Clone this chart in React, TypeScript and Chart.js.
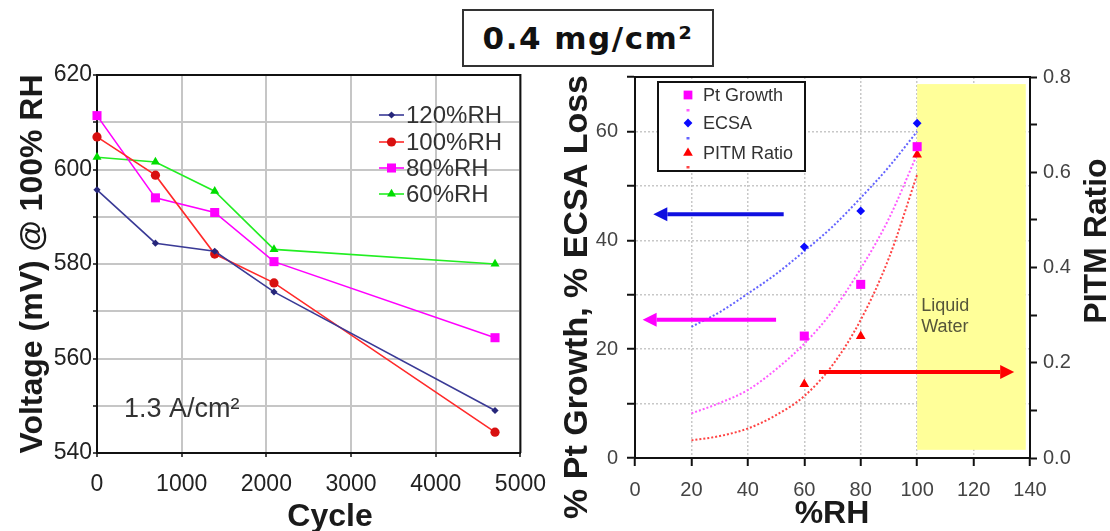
import React, { useEffect, useRef } from 'react';
import { Chart, registerables } from 'chart.js';
Chart.register(...registerables);

// ---------- Left panel data ----------
const cycles = [0, 690, 1390, 2090, 4700];
const rh120 = [595.7, 584.4, 582.7, 574.1, 549.0];
const rh100 = [606.9, 598.8, 582.1, 576.0, 544.4];
const rh80 = [611.4, 594.0, 590.9, 580.5, 564.4];
const rh60 = [602.6, 601.6, 595.4, 583.1, 580.0];
const leftLabels = ['120%RH', '100%RH', '80%RH', '60%RH'];
const voltageTicks = [540, 560, 580, 600, 620];
const cycleTicks = [0, 1000, 2000, 3000, 4000, 5000];

// ---------- Right panel data ----------
const rhPoints = [60, 80, 100];
const ptGrowth = [22.4, 31.9, 57.2];
const ecsaLoss = [38.8, 45.4, 61.5];
const pitmRatio = [0.155, 0.256, 0.637];
const trendRH = [20, 30, 40, 50, 60, 70, 80, 90, 100];
const ptTrend = [8.2, 10.1, 12.5, 16.3, 21.0, 27.0, 34.8, 44.0, 55.8];
const ecsaTrend = [24.1, 26.8, 30.2, 33.8, 38.0, 42.5, 47.8, 53.5, 60.0];
const pitmTrend = [0.037, 0.046, 0.062, 0.09, 0.13, 0.195, 0.29, 0.42, 0.595];
const rightLabels = ['Pt Growth', 'ECSA', 'PITM Ratio'];

// annotations (data units)
const liquidWater = { x0: 100, x1: 138.5, y0: 1.5, y1: 68.7 };
const arrows = [
  { y: 44.8, from: 52.7, to: 6.5, color: '#1010e0' },
  { y: 25.4, from: 50.0, to: 2.7, color: '#ff00ff' },
  { y: 15.8, from: 65.2, to: 134.4, color: '#ff0000' },
];

const FONT = '"Liberation Sans", Arial, Helvetica, sans-serif';
Chart.defaults.font.family = FONT;

function drawMarker(ctx: CanvasRenderingContext2D, style: string, x: number, y: number, r: number, color: string) {
  ctx.fillStyle = color;
  ctx.beginPath();
  if (style === 'circle') ctx.arc(x, y, r, 0, Math.PI * 2);
  else if (style === 'rect') {
    const s = r * Math.SQRT1_2;
    ctx.rect(x - s, y - s, 2 * s, 2 * s);
  } else if (style === 'rectRot') {
    ctx.moveTo(x, y - r); ctx.lineTo(x + r, y); ctx.lineTo(x, y + r); ctx.lineTo(x - r, y); ctx.closePath();
  } else if (style === 'triangle') {
    const c = Math.cos(Math.PI / 6);
    ctx.moveTo(x, y - r); ctx.lineTo(x + r * c, y + r * 0.5); ctx.lineTo(x - r * c, y + r * 0.5); ctx.closePath();
  }
  ctx.fill();
}

function rotText(ctx: CanvasRenderingContext2D, text: string, x: number, y: number, align: CanvasTextAlign) {
  ctx.save();
  ctx.translate(x, y);
  ctx.rotate(-Math.PI / 2);
  ctx.textAlign = align;
  ctx.textBaseline = 'middle';
  ctx.fillText(text, 0, 0);
  ctx.restore();
}

const leftStyles = [
  { line: '#3a3a96', point: '#26267a', style: 'rectRot', r: 3.6 },
  { line: '#ff2a2a', point: '#d81010', style: 'circle', r: 4.6 },
  { line: '#ff00ff', point: '#ff00ff', style: 'rect', r: 6.4 },
  { line: '#22ee22', point: '#00dd00', style: 'triangle', r: 5.2 },
];

function leftConfig(): any {
  const series = [rh120, rh100, rh80, rh60];
  const datasets = series.map((s, i) => ({
    label: leftLabels[i],
    data: cycles.map((c, j) => ({ x: c, y: s[j] })),
    borderColor: leftStyles[i].line,
    backgroundColor: leftStyles[i].point,
    pointBackgroundColor: leftStyles[i].point,
    pointBorderColor: leftStyles[i].point,
    pointStyle: leftStyles[i].style,
    pointRadius: leftStyles[i].r,
    pointBorderWidth: 0,
    borderWidth: 1.6,
    tension: 0,
    clip: false,
  }));
  const decor = {
    id: 'leftDecor',
    beforeDatasetsDraw(chart: any) {
      const { ctx, chartArea: a } = chart;
      ctx.save();
      ctx.strokeStyle = '#111';
      ctx.lineWidth = 2;
      ctx.beginPath();
      ctx.moveTo(a.left, a.top); ctx.lineTo(a.right, a.top); ctx.lineTo(a.right, a.bottom);
      ctx.stroke();
      ctx.restore();
    },
    afterDraw(chart: any) {
      const { ctx } = chart;
      ctx.save();
      ctx.fillStyle = '#1a1a1a';
      ctx.font = `bold 32px ${FONT}`;
      rotText(ctx, 'Voltage (mV) @ 100% RH', 33, 264, 'center');
      ctx.textAlign = 'center';
      ctx.textBaseline = 'middle';
      ctx.fillText('Cycle', 330, 517);
      // annotation
      ctx.fillStyle = '#333';
      ctx.font = `27px ${FONT}`;
      ctx.textAlign = 'left';
      ctx.fillText('1.3 A/cm²', 124, 410);
      // legend
      const rows = [115, 142, 168, 194];
      ctx.font = `24px ${FONT}`;
      leftLabels.forEach((lab, i) => {
        const y = rows[i];
        const st = leftStyles[i];
        ctx.strokeStyle = st.line;
        ctx.lineWidth = 1.6;
        ctx.beginPath(); ctx.moveTo(379, y); ctx.lineTo(404, y); ctx.stroke();
        drawMarker(ctx, st.style, 391.5, y, st.r, st.point);
        ctx.fillStyle = '#333';
        ctx.textAlign = 'left';
        ctx.textBaseline = 'middle';
        ctx.fillText(lab, 406, y + 1);
      });
      ctx.restore();
    },
  };
  return {
    type: 'line',
    data: { datasets },
    plugins: [decor],
    options: {
      responsive: false,
      animation: false,
      devicePixelRatio: 1,
      layout: { padding: { top: 75, right: 33, left: 0, bottom: 0 } },
      plugins: { legend: { display: false }, tooltip: { enabled: false } },
      scales: {
        x: {
          type: 'linear', min: 0, max: 5000,
          afterFit: (s: any) => { s.height = 78; },
          afterBuildTicks: (s: any) => { s.ticks = cycleTicks.map((v) => ({ value: v })); },
          ticks: { font: { size: 23 }, color: '#222', padding: 14, maxRotation: 0, callback: (v: number) => String(v) },
          grid: { color: '#c6c6c6', lineWidth: 2, tickLength: 4, tickColor: '#111', tickWidth: 1.5 },
          border: { color: '#111', width: 2 },
        },
        y: {
          type: 'linear', min: 540, max: 620,
          afterFit: (s: any) => { s.width = 97; },
          afterBuildTicks: (s: any) => {
            const t = [];
            for (let v = 540; v <= 620; v += 10) t.push({ value: v });
            s.ticks = t;
          },
          ticks: {
            font: { size: 23 }, color: '#222', padding: 1,
            callback: (v: number) => (voltageTicks.includes(v) ? String(v) : ''),
          },
          grid: { color: '#c6c6c6', lineWidth: 2, tickLength: 4, tickColor: '#111', tickWidth: 1.5 },
          border: { color: '#111', width: 2 },
        },
      },
    },
  };
}

function rightConfig(): any {
  const pts = (xs: number[], ys: number[]) => xs.map((x, i) => ({ x, y: ys[i] }));
  const datasets = [
    { label: rightLabels[0], data: pts(rhPoints, ptGrowth), showLine: false, pointStyle: 'rect', pointRadius: 6.4,
      backgroundColor: '#ff00ff', borderColor: '#ff00ff', pointBorderWidth: 0, yAxisID: 'y', order: 1, clip: false },
    { label: rightLabels[1], data: pts(rhPoints, ecsaLoss), showLine: false, pointStyle: 'rectRot', pointRadius: 4.4,
      backgroundColor: '#0a0aff', borderColor: '#0a0aff', pointBorderWidth: 0, yAxisID: 'y', order: 1, clip: false },
    { label: rightLabels[2], data: pts(rhPoints, pitmRatio), showLine: false, pointStyle: 'triangle', pointRadius: 5.6,
      backgroundColor: '#ff0000', borderColor: '#ff0000', pointBorderWidth: 0, yAxisID: 'y1', order: 1, clip: false },
    { label: 'Pt trend', data: pts(trendRH, ptTrend), pointRadius: 0, borderColor: '#ff5cff', borderWidth: 2,
      borderDash: [2, 2], cubicInterpolationMode: 'monotone', yAxisID: 'y', order: 2 },
    { label: 'ECSA trend', data: pts(trendRH, ecsaTrend), pointRadius: 0, borderColor: '#6464ff', borderWidth: 2,
      borderDash: [2, 2], cubicInterpolationMode: 'monotone', yAxisID: 'y', order: 2 },
    { label: 'PITM trend', data: pts(trendRH, pitmTrend), pointRadius: 0, borderColor: '#ff4444', borderWidth: 2,
      borderDash: [2, 2], cubicInterpolationMode: 'monotone', yAxisID: 'y1', order: 2 },
  ];
  const decor = {
    id: 'rightDecor',
    beforeDatasetsDraw(chart: any) {
      const { ctx, chartArea: a, scales } = chart;
      const x = scales.x, y = scales.y;
      ctx.save();
      ctx.fillStyle = '#ffff99';
      const l = x.getPixelForValue(liquidWater.x0), r = x.getPixelForValue(liquidWater.x1);
      const t = y.getPixelForValue(liquidWater.y1), b = y.getPixelForValue(liquidWater.y0);
      ctx.fillRect(l, t, r - l, b - t);
      ctx.strokeStyle = '#111';
      ctx.lineWidth = 2;
      ctx.beginPath(); ctx.moveTo(a.left, a.top); ctx.lineTo(a.right, a.top); ctx.stroke();
      ctx.fillStyle = '#55553a';
      ctx.font = `18px ${FONT}`;
      ctx.textAlign = 'left';
      ctx.textBaseline = 'middle';
      ctx.fillText('Liquid', l + 4, 306);
      ctx.fillText('Water', l + 4, 327);
      ctx.restore();
    },
    afterDatasetsDraw(chart: any) {
      const { ctx, scales } = chart;
      const x = scales.x, y = scales.y;
      ctx.save();
      arrows.forEach((ar) => {
        const py = y.getPixelForValue(ar.y);
        const x0 = x.getPixelForValue(ar.from), x1 = x.getPixelForValue(ar.to);
        const dir = Math.sign(x1 - x0);
        const head = 14;
        ctx.strokeStyle = ar.color;
        ctx.fillStyle = ar.color;
        ctx.lineWidth = 4;
        ctx.beginPath(); ctx.moveTo(x0, py); ctx.lineTo(x1 - dir * head, py); ctx.stroke();
        ctx.beginPath();
        ctx.moveTo(x1, py); ctx.lineTo(x1 - dir * head, py - 7); ctx.lineTo(x1 - dir * head, py + 7); ctx.closePath();
        ctx.fill();
      });
      ctx.restore();
    },
    afterDraw(chart: any) {
      const { ctx } = chart;
      ctx.save();
      // legend box
      ctx.fillStyle = '#fff';
      ctx.fillRect(98, 82, 147, 89);
      ctx.strokeStyle = '#111';
      ctx.lineWidth = 2;
      ctx.strokeRect(98, 82, 147, 89);
      const mx = 128;
      const markerRows = [95, 123, 153];
      const trendRows = [110, 138, 167];
      const mk = [
        { style: 'rect', r: 6.2, c: '#ff00ff', t: '#ff5cff' },
        { style: 'rectRot', r: 4.4, c: '#0a0aff', t: '#6464ff' },
        { style: 'triangle', r: 5.6, c: '#ff0000', t: '#ff4444' },
      ];
      ctx.font = `18px ${FONT}`;
      rightLabels.forEach((lab, i) => {
        drawMarker(ctx, mk[i].style, mx, markerRows[i], mk[i].r, mk[i].c);
        ctx.fillStyle = mk[i].t;
        ctx.fillRect(mx - 1.5, trendRows[i] - 1, 3, 2.5);
        ctx.fillStyle = '#333';
        ctx.textAlign = 'left';
        ctx.textBaseline = 'middle';
        ctx.fillText(lab, 143, markerRows[i] + 1);
      });
      // axis titles
      ctx.fillStyle = '#1a1a1a';
      ctx.font = `bold 34px ${FONT}`;
      rotText(ctx, '% Pt Growth, % ECSA Loss', 18, 75, 'right');
      ctx.font = `bold 32px ${FONT}`;
      rotText(ctx, 'PITM Ratio', 537, 241, 'center');
      ctx.textAlign = 'center';
      ctx.textBaseline = 'middle';
      ctx.fillText('%RH', 272, 514);
      ctx.restore();
    },
  };
  const dottedGrid = { color: '#c8c8c8', lineWidth: 1.5, tickLength: 8, tickColor: '#111', tickWidth: 2 };
  return {
    type: 'line',
    data: { datasets },
    plugins: [decor],
    options: {
      responsive: false,
      animation: false,
      devicePixelRatio: 1,
      layout: { padding: { top: 77, right: 0, left: 0, bottom: 0 } },
      plugins: { legend: { display: false }, tooltip: { enabled: false } },
      scales: {
        x: {
          type: 'linear', min: 0, max: 140,
          afterFit: (s: any) => { s.height = 73; },
          ticks: { stepSize: 20, font: { size: 20 }, color: '#444', padding: 12, maxRotation: 0 },
          grid: dottedGrid,
          border: { color: '#111', width: 2, dash: [2, 2] },
        },
        y: {
          type: 'linear', position: 'left', min: 0, max: 70,
          afterFit: (s: any) => { s.width = 75; },
          ticks: {
            stepSize: 10, font: { size: 20 }, color: '#444', padding: 9,
            callback: (v: number) => (v % 20 === 0 ? String(v) : ''),
          },
          grid: dottedGrid,
          border: { color: '#111', width: 2, dash: [2, 2] },
        },
        y1: {
          type: 'linear', position: 'right', min: 0, max: 0.8,
          afterFit: (s: any) => { s.width = 80; },
          ticks: {
            stepSize: 0.1, font: { size: 20 }, color: '#444', padding: 6,
            callback: (v: number) => (Math.round(v * 10) % 2 === 0 ? v.toFixed(1) : ''),
          },
          grid: { drawOnChartArea: false, tickLength: 7, tickColor: '#111', tickWidth: 2 },
          border: { color: '#111', width: 2 },
        },
      },
    },
  };
}

export default function App() {
  const leftRef = useRef<HTMLCanvasElement>(null);
  const rightRef = useRef<HTMLCanvasElement>(null);
  useEffect(() => {
    document.body.style.margin = '0';
    const c1 = new Chart(leftRef.current as HTMLCanvasElement, leftConfig());
    const c2 = new Chart(rightRef.current as HTMLCanvasElement, rightConfig());
    return () => {
      c1.destroy();
      c2.destroy();
    };
  }, []);
  return (
    <div style={{ position: 'absolute', left: 0, top: 0, width: 1110, height: 531, background: '#fff', overflow: 'hidden' }}>
      <canvas ref={leftRef} width={560} height={531} style={{ position: 'absolute', left: 0, top: 0 }} />
      <canvas ref={rightRef} width={550} height={531} style={{ position: 'absolute', left: 560, top: 0 }} />
      <div
        style={{
          position: 'absolute', left: 462, top: 9, width: 252, height: 58, boxSizing: 'border-box',
          border: '2px solid #333', background: '#fff', display: 'flex', alignItems: 'center',
          justifyContent: 'center', font: 'bold 31px "DejaVu Sans", Verdana, sans-serif', color: '#111',
          letterSpacing: '1.5px',
        }}
      >
        0.4 mg/cm²
      </div>
    </div>
  );
}
